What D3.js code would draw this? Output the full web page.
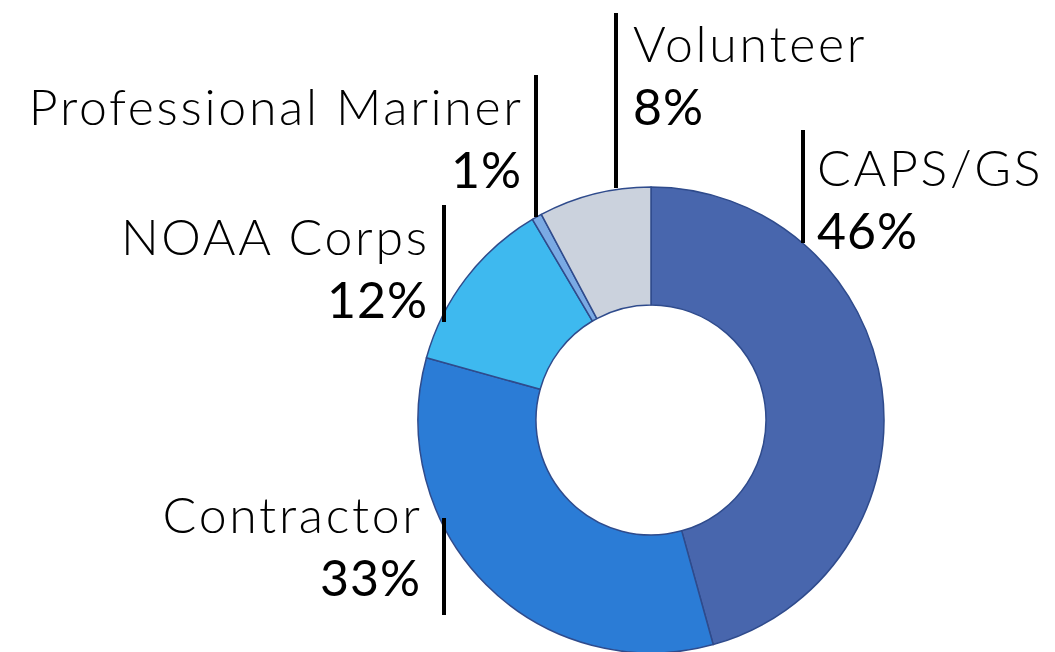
<!DOCTYPE html>
<html>
<head>
<meta charset="utf-8">
<script src="https://cdn.jsdelivr.net/npm/d3@7"></script>
<style>
  html, body { margin: 0; padding: 0; background: #fff; }
  svg text { font-family: "Lato", "Open Sans", sans-serif; font-weight: 300; fill: #000; }
</style>
</head>
<body>
<svg id="chart" width="1055" height="652"></svg>
<script>
// Data (clockwise from 12 o'clock)
const categories = ["CAPS/GS", "Contractor", "NOAA Corps", "Professional Mariner", "Volunteer"];
const values = [45.7, 33.6, 12.2, 0.7, 7.8];
const percentLabels = ["46%", "33%", "12%", "1%", "8%"];
const colors = ["#4866AD", "#2B7CD6", "#3EB9EF", "#7AAAE4", "#CBD2DD"];

// Label placement (layout only)
const labelLayout = {
  "CAPS/GS":              { x: 817, y: 186, anchor: "start", lineX: 803, y1: 130, y2: 243 },
  "Contractor":           { x: 420, y: 533, anchor: "end",   lineX: 444, y1: 518, y2: 615 },
  "NOAA Corps":           { x: 427, y: 255, anchor: "end",   lineX: 444, y1: 205, y2: 322 },
  "Professional Mariner": { x: 521, y: 125, anchor: "end",   lineX: 536, y1: 75,  y2: 217 },
  "Volunteer":            { x: 633, y: 62,  anchor: "start", lineX: 616, y1: 13,  y2: 188 }
};

const svg = d3.select("#chart");
const cx = 651, cy = 420, outerR = 233, innerR = 115;

const pie = d3.pie().sort(null).value(d => d.value);
const arc = d3.arc().innerRadius(innerR).outerRadius(outerR);
const color = d3.scaleOrdinal().domain(categories).range(colors);

const data = categories.map((c, i) => ({ name: c, value: values[i], pct: percentLabels[i] }));

const g = svg.append("g").attr("transform", `translate(${cx},${cy})`);
g.selectAll("path")
  .data(pie(data))
  .join("path")
  .attr("d", arc)
  .attr("fill", d => color(d.data.name))
  .attr("stroke", "#2F4B8C")
  .attr("stroke-width", 1.5)
  .attr("stroke-linejoin", "round");

const nameLS = 2.7, pctLS = 1;
const labels = svg.append("g");
data.forEach(d => {
  const L = labelLayout[d.name];
  const endShift = L.anchor === "end";
  labels.append("line")
    .attr("x1", L.lineX).attr("x2", L.lineX)
    .attr("y1", L.y1).attr("y2", L.y2)
    .attr("stroke", "#000").attr("stroke-width", 4);
  labels.append("text")
    .attr("x", L.x + (endShift ? nameLS : 0)).attr("y", L.y)
    .attr("text-anchor", L.anchor)
    .attr("font-size", 50)
    .style("letter-spacing", nameLS + "px")
    .text(d.name);
  labels.append("text")
    .attr("x", L.x + (endShift ? pctLS : 0)).attr("y", L.y + 63)
    .attr("text-anchor", L.anchor)
    .attr("font-size", 50)
    .style("letter-spacing", pctLS + "px")
    .style("font-weight", 400)
    .text(d.pct);
});
</script>
</body>
</html>
